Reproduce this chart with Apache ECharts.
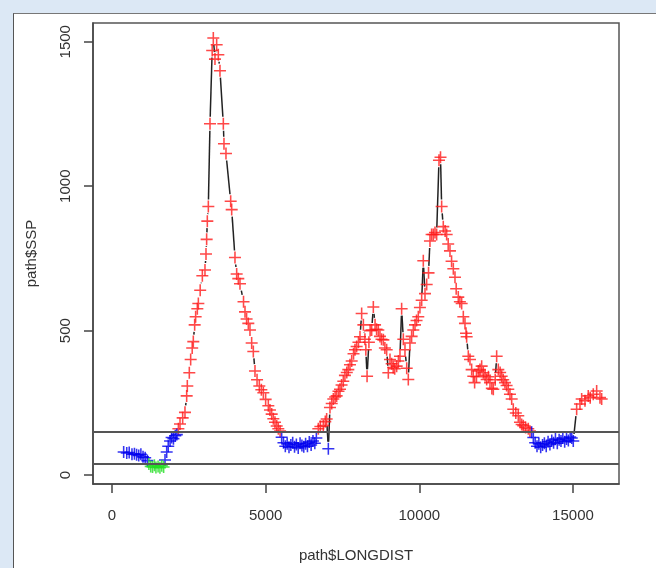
<!DOCTYPE html>
<html>
<head>
<meta charset="utf-8">
<script src="https://cdn.jsdelivr.net/npm/echarts@6/dist/echarts.min.js"></script>
<style>
  html, body { margin: 0; padding: 0; width: 656px; height: 568px; overflow: hidden; background: #dce8f5; }
  #panel { position: absolute; left: 13px; top: 13px; right: 0; bottom: 0; background: #fff; border-left: 1px solid #555; border-top: 1px solid #777; }
  #chart { position: absolute; left: 0; top: 0; width: 656px; height: 568px; }
</style>
</head>
<body>
<div id="panel"></div>
<div id="chart"></div>
<script>
// distance along the path (path$LONGDIST)
const dist = [
  380, 480, 560, 650, 730, 800, 870, 940, 1010, 1080, 1150,
  1200, 1260, 1320, 1380, 1430, 1500, 1560, 1620, 1680, 1725,
  1780, 1830, 1890, 1940, 2000, 2060, 2110,
  2160, 2213, 2300, 2375, 2430, 2451, 2516, 2560, 2610, 2646, 2690, 2722, 2777, 2810,
  2870, 2940, 3026, 3059, 3080, 3102, 3135, 3189, 3260, 3297, 3351, 3406, 3460, 3514,
  3623, 3644, 3709, 3862, 3895, 4002, 4057, 4110, 4165, 4280, 4328, 4380, 4436, 4490,
  4545, 4599, 4653, 4720, 4794, 4860, 4925, 5000, 5087, 5140, 5196, 5250, 5304, 5360,
  5412, 5470,
  5521, 5580, 5640, 5700, 5760, 5820, 5880, 5940, 6000, 6060, 6120, 6180, 6240, 6300,
  6360, 6420, 6480, 6540, 6600, 6650,
  6714, 6780, 6876, 6940, 6985, 7040, 7093, 7150, 7202, 7260, 7310, 7370, 7419, 7470,
  7527, 7580, 7640, 7690, 7744, 7800, 7860, 7907, 7961, 8020, 8070, 8124, 8180, 8230,
  8260, 8300, 8360, 8400, 8450, 8504, 8560, 8610, 8667, 8720, 8770, 8830, 8880, 8938,
  8992, 9046, 9100, 9150, 9200, 9263, 9320, 9371, 9425, 9480, 9534, 9590, 9642, 9696,
  9750, 9805, 9860, 9910, 9967, 10020, 10077, 10130, 10185, 10240, 10300, 10347, 10400,
  10455, 10510, 10564, 10640, 10690, 10727, 10780, 10840, 10890, 10940, 10998, 11050,
  11107, 11161, 11200, 11268, 11320, 11378, 11432, 11486, 11520, 11541, 11594, 11649,
  11703, 11757, 11800, 11860, 11920, 11974, 12029, 12083, 12140, 12192, 12250, 12300,
  12360, 12408, 12470, 12517, 12571, 12630, 12680, 12730, 12787, 12840, 12895, 12950,
  13006, 13058, 13140, 13220, 13276, 13330, 13383, 13460, 13546, 13600, 13656,
  13710, 13770, 13830, 13890, 13950, 14010, 14070, 14130, 14190, 14250, 14310, 14370,
  14430, 14490, 14550, 14610, 14670, 14730, 14790, 14850, 14910, 14960, 15010,
  15120, 15228, 15283, 15391, 15498, 15561, 15661, 15771, 15879, 15934
];
// signal value at each point (path$SSP)
const ssp = [
  80, 76, 78, 72, 74, 70, 68, 72, 63, 60, 50,
  38, 30, 28, 34, 26, 30, 25, 32, 28, 52,
  80, 100, 118, 130, 126, 136, 140,
  160, 177, 198, 217, 274, 308, 354, 400, 440, 462, 520, 548, 576, 594,
  640, 690, 710, 765, 816, 879, 930, 1216, 1470, 1513, 1440, 1490, 1455, 1400,
  1216, 1147, 1113, 948, 919, 753, 696, 680, 662, 600, 565, 540, 525, 502,
  457, 428, 360, 330, 308, 295, 285, 262, 240, 225, 211, 195, 183, 170,
  160, 152,
  131, 112, 100, 108, 96, 104, 112, 98, 106, 94, 110, 102, 98, 108,
  100, 114, 104, 118, 110, 128,
  160, 168, 171, 185, 194, 91, 234, 248, 263, 270, 274, 290, 297, 312,
  325, 345, 355, 365, 382, 395, 420, 434, 445, 460, 479, 559, 520, 470,
  434, 342, 460, 500, 502, 582, 520, 505, 502, 480, 470, 468, 440, 434,
  354, 400, 385, 372, 368, 377, 395, 411, 576, 470, 434, 370, 331, 457,
  480, 502, 520, 535, 548, 580, 605, 742, 628, 660, 700, 810, 833,
  833, 840, 833, 1090, 1100, 930, 860, 845, 833, 800, 776, 740,
  714, 685, 645, 616, 600, 594, 548, 525, 491, 479, 411, 400,
  365, 342, 320, 340, 360, 365, 377, 354, 345, 331, 340, 320,
  300, 297, 330, 411, 365, 355, 342, 330, 320, 310, 297, 280,
  263, 228, 215, 205, 183, 175, 171, 165, 160, 152, 148,
  130, 112, 100, 108, 96, 104, 110, 100, 115, 106, 120, 112,
  125, 110, 122, 118, 128, 115, 125, 120, 132, 128, 118,
  228, 246, 263, 257, 274, 268, 280, 291, 268, 263
];
// threshold lines drawn across the plot
const thresholds = [150, 40];
const xTicks = [0, 5000, 10000, 15000];
const yTicks = [0, 500, 1000, 1500];

const points = dist.map((d, i) => [d, ssp[i]]);
const lowPts = points.filter(p => p[1] < thresholds[1]);
const midPts = points.filter(p => p[1] >= thresholds[1] && p[1] < thresholds[0]);
const highPts = points.filter(p => p[1] >= thresholds[0]);
const segments = [];
for (let i = 1; i < points.length; i++) {
  segments.push([points[i - 1][0], points[i - 1][1], points[i][0], points[i][1]]);
}

const plus = 'path://M0,4.35H4.35V0H5.65V4.35H10V5.65H5.65V10H4.35V5.65H0Z';
const gap = 7;

const chart = echarts.init(document.getElementById('chart'));
const axisColor = '#444';
const font = { fontFamily: 'Liberation Sans, Arial, sans-serif', fontSize: 15, color: '#333' };

chart.setOption({
  animation: false,
  grid: {
    left: 93, top: 23, right: 37, bottom: 79,
    show: true, borderColor: '#555', borderWidth: 1.5, backgroundColor: '#fff'
  },
  xAxis: {
    type: 'value', min: -618, max: 16498,
    name: 'path$LONGDIST', nameLocation: 'middle', nameGap: 64,
    nameTextStyle: font,
    axisLine: { show: true, onZero: false, lineStyle: { color: axisColor, width: 1.5 } },
    axisTick: { show: true, length: 9, customValues: xTicks, lineStyle: { color: axisColor, width: 1.5 } },
    axisLabel: { customValues: xTicks, margin: 24, formatter: v => String(v), ...font },
    splitLine: { show: false }
  },
  yAxis: {
    type: 'value', min: -31, max: 1565,
    name: 'path$SSP', nameLocation: 'middle', nameGap: 54,
    nameTextStyle: font,
    axisLine: { show: true, onZero: false, lineStyle: { color: axisColor, width: 1.5 } },
    axisTick: { show: true, length: 9, customValues: yTicks, lineStyle: { color: axisColor, width: 1.5 } },
    axisLabel: { customValues: yTicks, rotate: 90, margin: 20, formatter: v => String(v), ...font },
    splitLine: { show: false }
  },
  series: [
    {
      type: 'custom',
      data: segments,
      silent: true,
      z: 2,
      renderItem: function (params, api) {
        const a = api.coord([api.value(0), api.value(1)]);
        const b = api.coord([api.value(2), api.value(3)]);
        const dx = b[0] - a[0], dy = b[1] - a[1];
        const len = Math.sqrt(dx * dx + dy * dy);
        if (len <= 2 * gap) return null;
        const ux = dx / len, uy = dy / len;
        return {
          type: 'line',
          shape: { x1: a[0] + ux * gap, y1: a[1] + uy * gap, x2: b[0] - ux * gap, y2: b[1] - uy * gap },
          style: { stroke: '#222', lineWidth: 1.5 }
        };
      }
    },
    {
      type: 'line',
      data: [],
      markLine: {
        silent: true, symbol: 'none', label: { show: false },
        lineStyle: { color: '#555', width: 2, type: 'solid' },
        data: thresholds.map(v => ({ yAxis: v }))
      }
    },
    { type: 'scatter', data: highPts, symbol: plus, symbolSize: 12, itemStyle: { color: '#ff1a1a' }, z: 3 },
    { type: 'scatter', data: midPts, symbol: plus, symbolSize: 12, itemStyle: { color: '#0000ee' }, z: 3 },
    { type: 'scatter', data: lowPts, symbol: plus, symbolSize: 12, itemStyle: { color: '#22dd22' }, z: 3 }
  ]
});
</script>
</body>
</html>
